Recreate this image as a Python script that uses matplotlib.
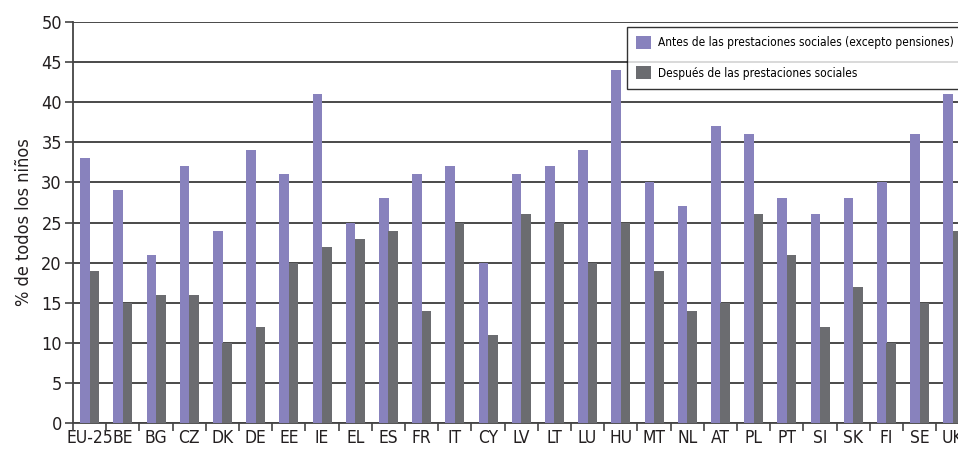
import matplotlib
matplotlib.use("Agg")
import matplotlib.pyplot as plt
import numpy as np

categories = ["EU-25", "BE", "BG", "CZ", "DK", "DE", "EE", "IE", "EL", "ES", "FR", "IT", "CY",
              "LV", "LT", "LU", "HU", "MT", "NL", "AT", "PL", "PT", "SI", "SK", "FI", "SE", "UK"]
antes = [33, 29, 21, 32, 24, 34, 31, 41, 25, 28, 31, 32, 20,
         31, 32, 34, 44, 30, 27, 37, 36, 28, 26, 28, 30, 36, 41]
despues = [19, 15, 16, 16, 10, 12, 20, 22, 23, 24, 14, 25, 11,
           26, 25, 20, 25, 19, 14, 15, 26, 21, 12, 17, 10, 15, 24]
label_antes = "Antes de las prestaciones sociales (excepto pensiones)"
label_despues = "Después de las prestaciones sociales"
ylabel = "% de todos los niños"

plt.rcParams['font.family'] = ['DejaVu Sans']
plt.rcParams['font.stretch'] = 'condensed'

W, H = 958, 454
fig = plt.figure(figsize=(W / 100, H / 100), dpi=100)
ax = fig.add_axes([73 / W, (H - 423) / H, (W - 73) / W, (423 - 22) / H])

x = np.arange(len(categories))
w = 0.29
purple = "#8882bd"
gray = "#6b6c70"
ax.bar(x - 0.14, antes, width=w, color=purple, label=label_antes, zorder=3)
ax.bar(x + 0.145, despues, width=w, color=gray, label=label_despues, zorder=3)

ax.set_ylim(0, 50)
ax.set_yticks(np.arange(0, 51, 5))
ax.set_xticks(x)
ax.set_xticklabels(categories, fontsize=12.5, color="#231f20")
ax.tick_params(axis='x', which='major', length=0, pad=4)
ax.set_xticks(np.arange(-0.5, len(categories), 1), minor=True)
ax.tick_params(axis='x', which='minor', length=6, width=1.2, color="#444444")
ax.tick_params(axis='y', labelsize=13, length=6, width=1.2, color="#444444", labelcolor="#231f20", pad=2)
ax.set_xlim(-0.5, -0.5 + (W - 73) / 33.2)

ax.grid(axis='y', color="#3a3a3a", linewidth=1.3, zorder=0)
for s in ["top", "right"]:
    ax.spines[s].set_visible(False)
ax.spines["left"].set_color("#444444")
ax.spines["left"].set_linewidth(1.3)
ax.spines["bottom"].set_color("#444444")
ax.spines["bottom"].set_linewidth(1.3)

ax.set_ylabel(ylabel, fontsize=13, color="#231f20", labelpad=6)

leg = ax.legend(loc="upper left", bbox_to_anchor=(627 / W, 1 - 27 / H), bbox_transform=fig.transFigure,
                frameon=True, fancybox=False, edgecolor="black", fontsize=8.6,
                handlelength=1.3, handleheight=1.3, handletextpad=0.55, borderpad=0.75,
                labelspacing=1.4, borderaxespad=0)
leg.get_frame().set_linewidth(1.0)
leg.set_zorder(5)

fig.savefig("out.png", dpi=100)
